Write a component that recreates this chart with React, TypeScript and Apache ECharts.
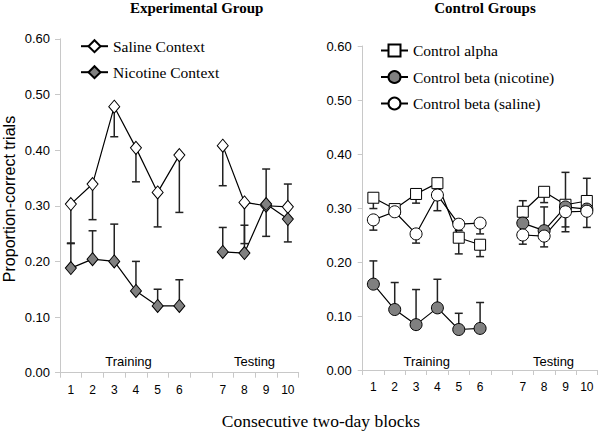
import React, { useEffect, useRef } from "react";
import * as echarts from "echarts";

// Category slots: blocks 1-6 (training), an empty gap, blocks 7-10 (testing)
const categories = ["1", "2", "3", "4", "5", "6", "", "7", "8", "9", "10"];

// Experimental group
const salineContext = [0.303, 0.339, 0.478, 0.404, 0.324, 0.391, null, 0.408, 0.306, 0.3, 0.298];
const salineContextBarEnd = [0.232, 0.275, 0.424, 0.343, 0.262, 0.288, null, 0.336, 0.232, 0.245, 0.339];
const nicotineContext = [0.188, 0.204, 0.2, 0.147, 0.12, 0.12, null, 0.217, 0.215, 0.303, 0.276];
const nicotineContextBarEnd = [0.233, 0.255, 0.267, 0.2, 0.15, 0.167, null, 0.261, 0.265, 0.366, 0.235];

// Control groups
const controlAlpha = [0.319, 0.298, 0.326, 0.346, 0.245, 0.232, null, 0.293, 0.33, 0.306, 0.313];
const controlAlphaBarEnd = [0.299, 0.29, 0.309, 0.335, 0.215, 0.21, null, 0.3135, 0.31, 0.366, 0.355];
const betaNicotine = [0.159, 0.112, 0.084, 0.115, 0.075, 0.077, null, 0.272, 0.258, 0.302, 0.298];
const betaNicotineBarEnd = [0.202, 0.162, 0.149, 0.168, 0.105, 0.125, null, 0.285, 0.302, 0.265, 0.31];
const betaSaline = [0.278, 0.293, 0.252, 0.324, 0.27, 0.272, null, 0.25, 0.248, 0.293, 0.294];
const betaSalineBarEnd = [0.259, 0.285, 0.235, 0.295, 0.258, 0.252, null, 0.233, 0.228, 0.256, 0.264];

const yMin = 0;
const yMax = 0.6;
const yStep = 0.1;

const SANS = "Liberation Sans";
const SERIF = "Liberation Serif";
const GREY = "#808080";
const AXIS = "#c8c8c8";

function errorSeries(vals: (number | null)[], ends: (number | null)[], axisIndex: number) {
  const data: any[] = [];
  vals.forEach((v, i) => {
    if (v != null && ends[i] != null) data.push([i, v, ends[i]]);
  });
  return {
    type: "custom",
    xAxisIndex: axisIndex,
    yAxisIndex: axisIndex,
    z: 1,
    silent: true,
    encode: { x: 0, y: [1, 2] },
    data,
    renderItem: (_params: any, api: any) => {
      const i = api.value(0);
      const p1 = api.coord([i, api.value(1)]);
      const p2 = api.coord([i, api.value(2)]);
      const cap = 4;
      const style = { stroke: "#222", lineWidth: 1.5 };
      return {
        type: "group",
        children: [
          { type: "line", shape: { x1: p1[0], y1: p1[1], x2: p2[0], y2: p2[1] }, style },
          { type: "line", shape: { x1: p2[0] - cap, y1: p2[1], x2: p2[0] + cap, y2: p2[1] }, style },
        ],
      };
    },
  };
}

function lineSeries(name: string, vals: (number | null)[], axisIndex: number, symbol: string, size: any, fill: string) {
  return {
    name,
    type: "line",
    xAxisIndex: axisIndex,
    yAxisIndex: axisIndex,
    z: 3,
    data: vals,
    connectNulls: false,
    symbol,
    symbolSize: size,
    showSymbol: true,
    lineStyle: { color: "#000", width: 1.2 },
    itemStyle: { color: fill, borderColor: "#000", borderWidth: 1 },
  };
}

function xAxis(gridIndex: number, margin: number) {
  return {
    type: "category",
    gridIndex,
    data: categories,
    boundaryGap: true,
    axisLine: { show: true, lineStyle: { color: AXIS, width: 1 } },
    axisTick: { show: true, interval: 0, length: 5, lineStyle: { color: AXIS } },
    axisLabel: { interval: 0, color: "#000", fontSize: 12, fontFamily: SANS, margin },
    splitLine: { show: false },
  };
}

function yAxis(gridIndex: number, margin: number) {
  return {
    type: "value",
    gridIndex,
    min: yMin,
    max: yMax,
    interval: yStep,
    axisLine: { show: true, lineStyle: { color: AXIS, width: 1 } },
    axisTick: { show: true, length: 5, lineStyle: { color: AXIS } },
    axisLabel: {
      color: "#000",
      fontSize: 13,
      fontFamily: SANS,
      margin,
      formatter: (v: number) => v.toFixed(2),
    },
    splitLine: { show: false },
  };
}

export default function App() {
  const ref = useRef<HTMLDivElement>(null);
  useEffect(() => {
    if (!ref.current) return;
    const chart = echarts.init(ref.current, undefined, { renderer: "svg" });
    const legendText = { color: "#000", fontSize: 15.5, fontFamily: SERIF };
    chart.setOption({
      animation: false,
      backgroundColor: "#fff",
      textStyle: { fontFamily: SERIF },
      grid: [
        { left: 60, top: 38.8, width: 238.7, height: 333.9 },
        { left: 362.7, top: 46, width: 234.8, height: 324 },
      ],
      xAxis: [xAxis(0, 11), xAxis(1, 10.5)],
      yAxis: [yAxis(0, 10), yAxis(1, 11)],
      legend: [
        {
          data: ["Saline Context", "Nicotine Context"],
          orient: "vertical",
          left: 80,
          top: 38.2,
          padding: 0,
          itemWidth: 27,
          itemHeight: 15,
          itemGap: 10,
          textStyle: legendText,
          selectedMode: false,
        },
        {
          data: ["Control alpha", "Control beta (nicotine)", "Control beta (saline)"],
          orient: "vertical",
          left: 380,
          top: 42.5,
          padding: 0,
          itemWidth: 27,
          itemHeight: 15,
          itemGap: 10.5,
          textStyle: legendText,
          selectedMode: false,
        },
      ],
      graphic: [
        {
          type: "text",
          x: 196.7,
          y: 7.5,
          style: { text: "Experimental Group", fontFamily: SERIF, fontWeight: "bold", fontSize: 15, fill: "#000", align: "center", verticalAlign: "middle" },
        },
        {
          type: "text",
          x: 485,
          y: 7.5,
          style: { text: "Control Groups", fontFamily: SERIF, fontWeight: "bold", fontSize: 15, fill: "#000", align: "center", verticalAlign: "middle" },
        },
        {
          type: "text",
          x: 9,
          y: 199,
          rotation: Math.PI / 2,
          style: { text: "Proportion-correct trials", fontFamily: SANS, fontSize: 16, fill: "#000", align: "center", verticalAlign: "middle" },
        },
        {
          type: "text",
          x: 321,
          y: 421,
          style: { text: "Consecutive two-day blocks", fontFamily: SERIF, fontSize: 17.5, fill: "#000", align: "center", verticalAlign: "middle" },
        },
        { type: "text", x: 128.5, y: 361.5, style: { text: "Training", fontFamily: SANS, fontSize: 13, fill: "#000", align: "center", verticalAlign: "middle" } },
        { type: "text", x: 254.5, y: 361.5, style: { text: "Testing", fontFamily: SANS, fontSize: 13, fill: "#000", align: "center", verticalAlign: "middle" } },
        { type: "text", x: 426.7, y: 361, style: { text: "Training", fontFamily: SANS, fontSize: 13, fill: "#000", align: "center", verticalAlign: "middle" } },
        { type: "text", x: 553.5, y: 361, style: { text: "Testing", fontFamily: SANS, fontSize: 13, fill: "#000", align: "center", verticalAlign: "middle" } },
      ],
      series: [
        errorSeries(salineContext, salineContextBarEnd, 0),
        errorSeries(nicotineContext, nicotineContextBarEnd, 0),
        errorSeries(controlAlpha, controlAlphaBarEnd, 1),
        errorSeries(betaNicotine, betaNicotineBarEnd, 1),
        errorSeries(betaSaline, betaSalineBarEnd, 1),
        lineSeries("Saline Context", salineContext, 0, "diamond", [11, 13], "#fff"),
        lineSeries("Nicotine Context", nicotineContext, 0, "diamond", [11, 13], GREY),
        lineSeries("Control alpha", controlAlpha, 1, "rect", 11, "#fff"),
        lineSeries("Control beta (nicotine)", betaNicotine, 1, "circle", 12, GREY),
        lineSeries("Control beta (saline)", betaSaline, 1, "circle", 12, "#fff"),
      ],
    });
    return () => chart.dispose();
  }, []);
  return (
    <div
      ref={ref}
      style={{
        position: "fixed",
        left: 0,
        top: 0,
        width: 600,
        height: 435,
        background: "#fff",
        fontFamily: "'Liberation Serif'",
      }}
    />
  );
}
